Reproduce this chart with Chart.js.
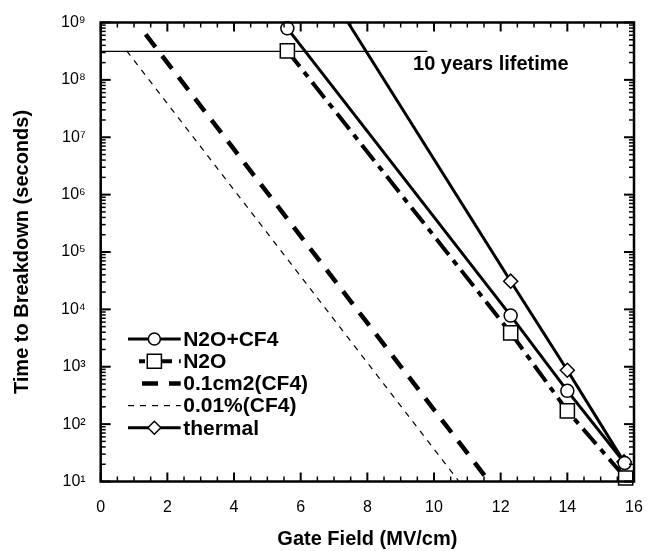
<!DOCTYPE html>
<html><head><meta charset="utf-8">
<script src="https://cdn.jsdelivr.net/npm/chart.js@4/dist/chart.umd.min.js"></script>
<style>html,body{margin:0;padding:0;background:#fff}</style>
</head><body>
<canvas id="c" width="647" height="551"></canvas>
<script>
// ---- data ----
const seriesNames = ['N2O+CF4', 'N2O', '0.1cm2(CF4)', '0.01%(CF4)', 'thermal'];
const n2oCf4X = [5.6, 12.3, 14.0, 15.72];
const n2oCf4Y = [7.9e8, 7.8e3, 3.8e2, 21];
const n2oX = [5.6, 12.3, 14.0, 15.75];
const n2oY = [3.2e8, 3.9e3, 1.7e2, 11.5];
const cm2X = [1.35, 11.55];
const cm2Y = [6.2e8, 12];
const pctX = [0.78, 10.75];
const pctY = [3.2e8, 10];
const thermalX = [7.42, 12.3, 14.0, 15.7];
const thermalY = [1e9, 3.1e4, 8.7e2, 22];
const lifetimeX = [0, 9.8];
const lifetimeY = [3.15e8, 3.15e8];
const lifetimeLabel = '10 years lifetime';
const lifetimeLabelAt = [9.37, 1.85e8];
const xMajorTicks = [0, 2, 4, 6, 8, 10, 12, 14, 16];
const yMajorTicks = [1e1, 1e2, 1e3, 1e4, 1e5, 1e6, 1e7, 1e8, 1e9];
const xTitle = 'Gate Field (MV/cm)';
const yTitle = 'Time to Breakdown (seconds)';

const FONT = "'Liberation Sans', Arial, Helvetica, sans-serif";
const SUP = ['\u2070','\u00B9','\u00B2','\u00B3','\u2074','\u2075','\u2076','\u2077','\u2078','\u2079'];
const pts = (xs, ys) => xs.map((x, i) => ({x: x, y: ys[i]}));

const datasets = [
  {label: seriesNames[0], data: pts(n2oCf4X, n2oCf4Y), borderColor: '#000', borderWidth: 3,
   pointStyle: 'circle', pointRadius: 6.5, pointBorderWidth: 1.5, pointBackgroundColor: '#fff', pointBorderColor: '#000'},
  {label: seriesNames[1], data: pts(n2oX, n2oY), borderColor: '#000', borderWidth: 4, borderDash: [20, 7, 6, 7],
   legendDashOffset: 27, legendInset: 11,
   pointStyle: 'rect', pointRadius: 10, pointBorderWidth: 1.5, pointBackgroundColor: '#fff', pointBorderColor: '#000'},
  {label: seriesNames[2], data: pts(cm2X, cm2Y), borderColor: '#000', borderWidth: 4.5, borderDash: [15, 8],
   legendInset: 14, pointRadius: 0},
  {label: seriesNames[3], data: pts(pctX, pctY), borderColor: '#000', borderWidth: 1.2, borderDash: [6, 6],
   pointRadius: 0},
  {label: seriesNames[4], data: pts(thermalX, thermalY), borderColor: '#000', borderWidth: 3,
   pointStyle: 'rectRot', pointRadius: [0, 7, 7, 7], pointBorderWidth: 1.5, pointBackgroundColor: '#fff', pointBorderColor: '#000'},
  {label: lifetimeLabel, inLegend: false, data: pts(lifetimeX, lifetimeY), borderColor: '#000', borderWidth: 1.2, pointRadius: 0}
];
datasets.forEach(d => { d.showLine = true; d.fill = false; d.tension = 0; d.clip = false; d.borderCapStyle = 'butt'; });
datasets[2].borderDash = [16, 11];

function drawMarker(ctx, style, x, y, r) {
  ctx.beginPath();
  if (style === 'circle') { ctx.arc(x, y, r, 0, Math.PI * 2); }
  else if (style === 'rect') { const s = r * Math.SQRT1_2; ctx.rect(x - s, y - s, 2 * s, 2 * s); }
  else if (style === 'rectRot') { ctx.moveTo(x, y - r); ctx.lineTo(x + r, y); ctx.lineTo(x, y + r); ctx.lineTo(x - r, y); ctx.closePath(); }
  ctx.fillStyle = '#fff'; ctx.fill(); ctx.stroke();
}

const framePlugin = {
  id: 'frame',
  afterDatasetsDraw(chart) {
    const {ctx, chartArea: a, scales: {x, y}} = chart;
    ctx.save();
    ctx.strokeStyle = '#000';
    const seg = (x1, y1, x2, y2) => { ctx.beginPath(); ctx.moveTo(x1, y1); ctx.lineTo(x2, y2); ctx.stroke(); };
    x.ticks.forEach(t => {
      const px = x.getPixelForValue(t.value);
      const major = xMajorTicks.includes(t.value);
      const len = major ? 9 : 5;
      ctx.lineWidth = major ? 2 : 1.5;
      seg(px, a.bottom, px, a.bottom - len);
      seg(px, a.top, px, a.top + len);
    });
    y.ticks.forEach(t => {
      const py = y.getPixelForValue(t.value);
      const major = yMajorTicks.includes(t.value);
      const len = major ? 10 : 5;
      ctx.lineWidth = major ? 2 : 1.5;
      seg(a.left, py, a.left + len, py);
      seg(a.right, py, a.right - len, py);
    });
    ctx.lineWidth = 2.5;
    ctx.strokeRect(a.left, a.top, a.right - a.left, a.bottom - a.top);

    // annotation
    ctx.fillStyle = '#000';
    ctx.font = 'bold 20px ' + FONT;
    ctx.textAlign = 'left';
    ctx.textBaseline = 'middle';
    ctx.fillText(lifetimeLabel, x.getPixelForValue(lifetimeLabelAt[0]), y.getPixelForValue(lifetimeLabelAt[1]));

    // legend
    const rows = chart.data.datasets.filter(d => d.inLegend !== false);
    const x0 = a.left + 27.3, x1 = a.left + 80, xm = (x0 + x1) / 2, xt = a.left + 82.5;
    rows.forEach((d, i) => {
      const ry = a.top + 316.5 + i * 22.2;
      ctx.strokeStyle = '#000';
      ctx.lineWidth = d.borderWidth;
      ctx.setLineDash(d.borderDash || []);
      ctx.lineDashOffset = d.legendDashOffset || 0;
      seg(x0 + (d.legendInset || 0), ry, x1, ry);
      ctx.setLineDash([]);
      ctx.lineDashOffset = 0;
      const r = Array.isArray(d.pointRadius) ? d.pointRadius[d.pointRadius.length - 1] : d.pointRadius;
      if (r > 0) {
        ctx.lineWidth = d.pointBorderWidth || 1.5;
        drawMarker(ctx, d.pointStyle, xm, ry, d.pointStyle === 'rect' ? 10 : (d.pointStyle === 'circle' ? 6 : 6.5));
      }
      ctx.fillStyle = '#000';
      ctx.font = 'bold 21px ' + FONT;
      ctx.textAlign = 'left';
      ctx.textBaseline = 'middle';
      ctx.fillText(d.label, xt, ry + 1);
    });
    ctx.restore();
  }
};

new Chart(document.getElementById('c'), {
  type: 'scatter',
  data: {datasets: datasets},
  options: {
    responsive: false,
    animation: false,
    devicePixelRatio: 1,
    layout: {padding: {left: 0, top: 22.5, right: 13, bottom: 0}},
    plugins: {legend: {display: false}, tooltip: {enabled: false}},
    scales: {
      x: {
        type: 'linear', min: 0, max: 16,
        grid: {display: false, drawTicks: false},
        border: {display: false},
        afterBuildTicks(s) {
          const t = [];
          for (let i = 0; i < xMajorTicks.length; i++) {
            t.push({value: xMajorTicks[i]});
            if (i < xMajorTicks.length - 1) {
              const step = (xMajorTicks[i + 1] - xMajorTicks[i]) / 4;
              for (let k = 1; k < 4; k++) t.push({value: xMajorTicks[i] + k * step});
            }
          }
          s.ticks = t;
        },
        afterFit(s) { s.height = 69.5; s.paddingLeft = 0; s.paddingRight = 0; },
        ticks: {
          autoSkip: false, maxRotation: 0, minRotation: 0, padding: 16, color: '#000',
          font: {family: FONT, size: 16},
          callback: v => xMajorTicks.includes(v) ? String(v) : ''
        },
        title: {display: true, text: xTitle, color: '#000', font: {family: FONT, size: 20, weight: 'bold'}, padding: {top: 0, bottom: 0}}
      },
      y: {
        type: 'logarithmic', min: 10, max: 1e9,
        grid: {display: false, drawTicks: false},
        border: {display: false},
        afterBuildTicks(s) {
          const t = [];
          for (let i = 0; i < yMajorTicks.length; i++) {
            t.push({value: yMajorTicks[i]});
            if (i < yMajorTicks.length - 1) {
              for (let m = 2; m <= 9; m++) t.push({value: yMajorTicks[i] * m});
            }
          }
          s.ticks = t;
        },
        afterFit(s) { s.width = 100.7; s.paddingTop = 0; s.paddingBottom = 0; },
        ticks: {
          autoSkip: false, padding: 15, color: '#000',
          font: {family: FONT, size: 16},
          callback: v => yMajorTicks.includes(v) ? '10' + String(Math.round(Math.log10(v))).split('').map(c => SUP[+c]).join('') : ''
        },
        title: {display: true, text: yTitle, color: '#000', font: {family: FONT, size: 20, weight: 'bold'}, padding: {top: 10, bottom: 0}}
      }
    }
  },
  plugins: [framePlugin]
});
</script>
</body></html>
